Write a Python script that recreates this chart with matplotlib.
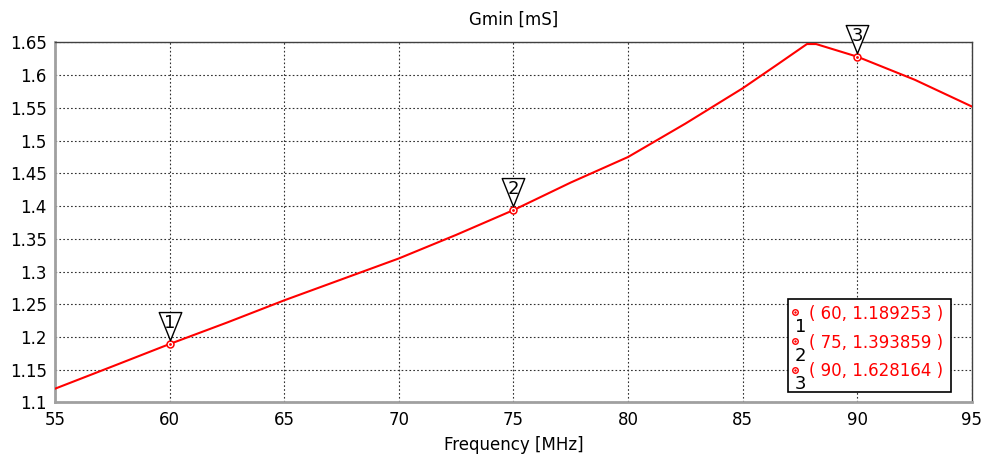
import numpy as np
import matplotlib
matplotlib.use("Agg")
import matplotlib.pyplot as plt
from matplotlib.path import Path
from matplotlib.patches import Rectangle

# Data
freq = [55, 57.5, 60, 62.5, 65, 67.5, 70, 72.5, 75, 77.5, 80, 82.5, 85,
        86.5, 87.8, 88.2, 90, 92.5, 95]
gmin = [1.121, 1.155, 1.189253, 1.222, 1.256, 1.288, 1.320, 1.356, 1.393859,
        1.436, 1.475, 1.526, 1.580, 1.616, 1.6475, 1.6475, 1.628164, 1.593, 1.552]

# Marker points
mark_ids = [1, 2, 3]
mark_x = [60, 75, 90]
mark_y = [1.189253, 1.393859, 1.628164]

xticks = [55, 60, 65, 70, 75, 80, 85, 90, 95]
yticks = [1.1, 1.15, 1.2, 1.25, 1.3, 1.35, 1.4, 1.45, 1.5, 1.55, 1.6, 1.65]

plt.rcParams['font.family'] = ['DejaVu Sans']

fig = plt.figure(figsize=(9.82, 4.61), dpi=100)
ax = fig.add_axes([0.056, 0.127, 0.9338, 0.781])

ax.plot(freq, gmin, color='#ff0000', lw=1.5, zorder=3)

ax.set_xlim(55, 95)
ax.set_ylim(1.1, 1.65)
ax.set_xticks(xticks)
ax.set_yticks(yticks)
ax.set_xticklabels(['%g' % t for t in xticks])
ax.set_yticklabels(['%g' % t for t in yticks])
ax.tick_params(length=0, labelsize=12, pad=6)
ax.grid(True, color='#303030', ls=(0, (1.5, 2)), lw=0.8)

for side in ['left', 'bottom']:
    ax.spines[side].set_color('#a0a0a0')
    ax.spines[side].set_linewidth(2)
for side in ['top', 'right']:
    ax.spines[side].set_color('#404040')
    ax.spines[side].set_linewidth(1)

ax.set_title("Gmin [mS]", fontsize=12, pad=13)
ax.set_xlabel("Frequency [MHz]", fontsize=12, labelpad=5)

# Markers on the curve
ax.plot(mark_x, mark_y, ls='none', marker='o', ms=5, mfc='white',
        mec='#ff0000', mew=1.1, zorder=4)
ax.plot(mark_x, mark_y, ls='none', marker='.', ms=2, color='#ff0000', zorder=5)

# Downward triangle flags with the marker number
tri = Path([(-0.353, 1.0), (0.353, 1.0), (0, 0.12), (-0.353, 1.0)],
           [Path.MOVETO, Path.LINETO, Path.LINETO, Path.CLOSEPOLY])
ax.plot(mark_x, mark_y, ls='none', marker=tri, ms=46, mfc='white',
        mec='black', mew=1.0, zorder=6, clip_on=False)
for i, x, y in zip(mark_ids, mark_x, mark_y):
    ax.annotate(str(i), (x, y), xytext=(0, 15), textcoords='offset points',
                ha='center', va='center', fontsize=13, color='black',
                zorder=7, annotation_clip=False)

# Marker table box
ax.add_patch(Rectangle((0.799, 0.029), 0.178, 0.258, transform=ax.transAxes,
                       facecolor='white', edgecolor='black', lw=1.2, zorder=8))
row_y = [0.246, 0.165, 0.086]
for i, x, y, ry in zip(mark_ids, mark_x, mark_y, row_y):
    ax.plot([0.807], [ry + 0.005], transform=ax.transAxes, ls='none', marker='o',
            ms=4, mfc='white', mec='#ff0000', mew=1.0, zorder=9, clip_on=False)
    ax.plot([0.807], [ry + 0.005], transform=ax.transAxes, ls='none', marker='.',
            ms=1.5, color='#ff0000', zorder=10, clip_on=False)
    ax.text(0.813, ry - 0.036, str(i), transform=ax.transAxes, ha='center',
            va='center', fontsize=13, color='black', zorder=9)
    ax.text(0.822, ry, "( %g, %.6f )" % (x, y), transform=ax.transAxes,
            ha='left', va='center', fontsize=12, color='#ff0000', zorder=9)

fig.savefig("out.png", dpi=100)
